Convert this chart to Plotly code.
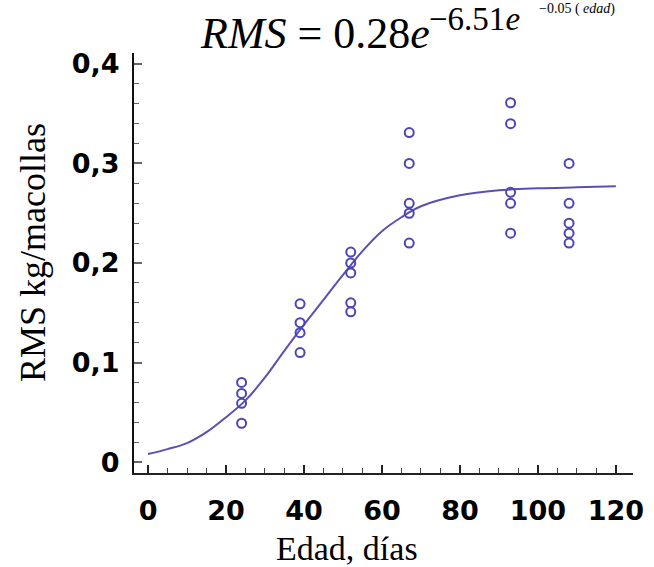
import plotly.graph_objects as go

# Observed data (edad, días ; RMS kg/macollas)
edad_obs = [24, 24, 24, 24,
            39, 39, 39, 39,
            52, 52, 52, 52, 52,
            67, 67, 67, 67, 67,
            93, 93, 93, 93, 93,
            108, 108, 108, 108, 108]
rms_obs = [0.080, 0.069, 0.059, 0.039,
           0.159, 0.140, 0.130, 0.110,
           0.211, 0.200, 0.190, 0.160, 0.151,
           0.331, 0.300, 0.260, 0.250, 0.220,
           0.361, 0.340, 0.271, 0.260, 0.230,
           0.300, 0.260, 0.240, 0.230, 0.220]

# Fitted curve
edad_fit = [0, 5, 10, 15, 20, 25, 30, 35, 40, 45, 50, 55, 60, 65, 70, 80, 90, 100, 110, 120]
rms_fit = [0.008, 0.013, 0.019, 0.030, 0.045, 0.062, 0.085, 0.112, 0.138, 0.163, 0.188,
           0.212, 0.232, 0.246, 0.257, 0.268, 0.273, 0.275, 0.276, 0.277]

x_ticks = [0, 20, 40, 60, 80, 100, 120]
x_ticktext = ["0", "20", "40", "60", "80", "100", "120"]
y_ticks = [0, 0.1, 0.2, 0.3, 0.4]
y_ticktext = ["0", "0,1", "0,2", "0,3", "0,4"]

LINE_COLOR = "#5a50b4"
MARK_COLOR = "#4b45b8"
TICK_FONT = dict(family="DejaVu Sans", size=27, color="black", weight="bold")
SERIF = "Liberation Serif"

L, R, T, B = 134, 21, 53, 94
PW, PH = 654 - L - R, 567 - T - B


def px(xpix):
    return (xpix - L) / PW


def py(ypix):
    return (567 - B - ypix) / PH


fig = go.Figure()
fig.add_trace(go.Scatter(x=edad_fit, y=rms_fit, mode="lines",
                         line=dict(color=LINE_COLOR, width=2, shape="spline"),
                         showlegend=False, hoverinfo="skip"))
fig.add_trace(go.Scatter(x=edad_obs, y=rms_obs, mode="markers",
                         marker=dict(symbol="circle-open", size=9, color=MARK_COLOR,
                                     line=dict(width=2)),
                         showlegend=False))

fig.update_layout(
    width=654, height=567,
    margin=dict(l=L, r=R, t=T, b=B, autoexpand=False),
    paper_bgcolor="white", plot_bgcolor="white",
    xaxis=dict(range=[-3.6, 124.4], tickvals=x_ticks, ticktext=x_ticktext,
               automargin=False,
               ticks="inside", ticklen=8, tickwidth=1.5, tickcolor="#222",
               showline=True, linecolor="#222", linewidth=2, mirror=False,
               showgrid=False, zeroline=False, tickfont=TICK_FONT,
               ticklabelstandoff=13,
               minor=dict(dtick=5, tick0=0, ticks="inside", ticklen=5,
                          tickwidth=1.2, tickcolor="#444", showgrid=False)),
    yaxis=dict(range=[-0.011, 0.411], tickvals=y_ticks, ticktext=y_ticktext,
               automargin=False,
               ticks="inside", ticklen=8, tickwidth=1.5, tickcolor="#666",
               showline=True, linecolor="#111", linewidth=2, mirror=False,
               showgrid=False, zeroline=False, tickfont=TICK_FONT,
               ticklabelstandoff=7,
               minor=dict(dtick=0.02, tick0=0, ticks="inside", ticklen=5,
                          tickwidth=1.2, tickcolor="#666", showgrid=False)),
)

annotations = [
    dict(text="RMS kg/macollas", x=px(33), y=py(253), xref="paper", yref="paper",
         textangle=-90, showarrow=False, font=dict(family=SERIF, size=36, color="black"),
         xanchor="center", yanchor="middle"),
    dict(text="Edad, días", x=px(347), y=py(548), xref="paper", yref="paper",
         showarrow=False, font=dict(family=SERIF, size=34, color="black"),
         xanchor="center", yanchor="middle"),
    dict(text="<i>RMS</i> = 0.28<i>e</i>", x=px(198), y=py(34),
         xref="paper", yref="paper", showarrow=False,
         font=dict(family=SERIF, size=44, color="black"), xanchor="left", yanchor="middle"),
    dict(text="−6.51<i>e</i>", x=px(427), y=py(19),
         xref="paper", yref="paper", showarrow=False,
         font=dict(family=SERIF, size=33, color="black"), xanchor="left", yanchor="middle"),
    dict(text="−0.05 ( <i>edad</i>)", x=px(537), y=py(9),
         xref="paper", yref="paper", showarrow=False,
         font=dict(family=SERIF, size=14, color="black"), xanchor="left", yanchor="middle"),
]
fig.update_layout(annotations=annotations)

fig.write_html("out.html",
               config={"displayModeBar": False},
               post_script="document.body.style.margin='0';document.body.style.padding='0';")
